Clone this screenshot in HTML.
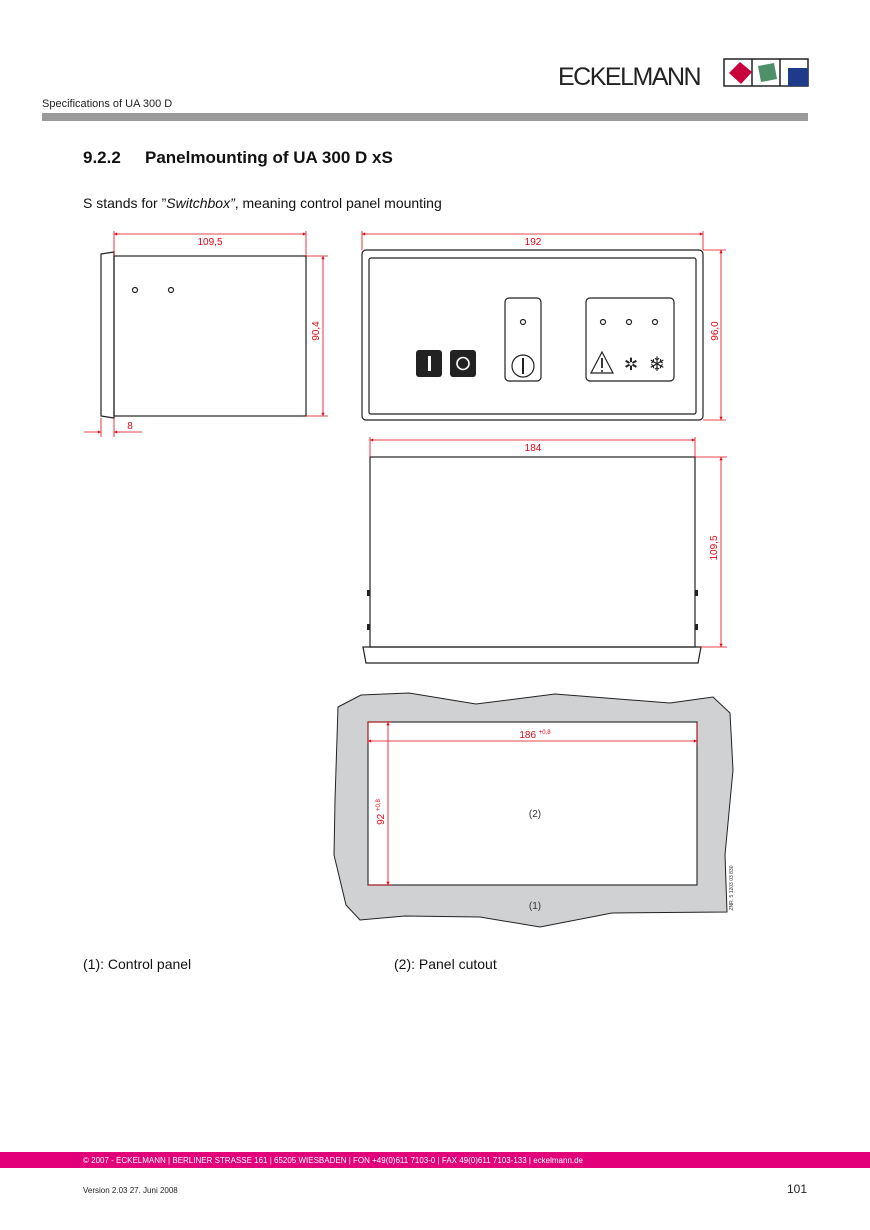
<!DOCTYPE html>
<html><head><meta charset="utf-8"><style>
html,body{margin:0;padding:0;background:#fff}
svg{display:block}
text{font-family:"Liberation Sans",Arial,sans-serif}
</style></head><body>
<svg width="870" height="1230" viewBox="0 0 870 1230" xmlns="http://www.w3.org/2000/svg">
<defs>
<marker id="a" viewBox="0 0 10 10" refX="10" refY="5" markerWidth="6" markerHeight="4" orient="auto-start-reverse"><path d="M0,0L10,5L0,10z" fill="#e30613"/></marker>
</defs>
<!-- header -->
<text x="558" y="85" font-size="25" fill="#222" letter-spacing="-1.5">ECKELMANN</text>
<rect x="724" y="59" width="84" height="27" fill="none" stroke="#222" stroke-width="1.5"/>
<line x1="752" y1="59" x2="752" y2="86" stroke="#222" stroke-width="1.5"/>
<line x1="780" y1="59" x2="780" y2="86" stroke="#222" stroke-width="1.5"/>
<polygon points="740,62 752,72 741,84 729,73" fill="#c8003c"/>
<polygon points="758,66 774,63 777,79 761,82" fill="#4f8f6a"/>
<rect x="788" y="68" width="20" height="18" fill="#1f3a8a"/>
<text x="42" y="107" font-size="11" fill="#222">Specifications of UA 300 D</text>
<rect x="42" y="113" width="766" height="8" fill="#9a9a9a"/>
<text x="83" y="163" font-size="17" font-weight="bold" fill="#111">9.2.2</text>
<text x="145" y="163" font-size="17" font-weight="bold" fill="#111">Panelmounting of UA 300 D xS</text>
<text x="83" y="208" font-size="14" fill="#111">S stands for ”<tspan font-style="italic">Switchbox”</tspan>, meaning control panel mounting</text>

<g stroke="#222" stroke-width="1.2" fill="none">
<!-- side view -->
<rect x="114" y="256" width="192" height="160"/>
<polygon points="101,254 114,252 114,418 101,416"/>
<circle cx="135" cy="290" r="2.5"/><circle cx="171" cy="290" r="2.5"/>
<!-- front -->
<rect x="362" y="250" width="341" height="170" rx="4"/>
<rect x="369" y="258" width="327" height="156" rx="2"/>
<rect x="505" y="298" width="36" height="83" rx="4"/>
<circle cx="523" cy="322" r="2.5"/>
<circle cx="523" cy="366" r="11"/>
<rect x="586" y="298" width="88" height="83" rx="4"/>
<circle cx="603" cy="322" r="2.5"/><circle cx="629" cy="322" r="2.5"/><circle cx="655" cy="322" r="2.5"/>
<polygon points="602,352 591,373 613,373"/>
<!-- top view -->
<rect x="370" y="457" width="325" height="190"/>
<polygon points="363,647 701,647 698,663 366,663"/>
</g>
<line x1="523" y1="358" x2="523" y2="374" stroke="#222" stroke-width="2"/>
<rect x="416" y="350" width="26" height="27" rx="3" fill="#222"/>
<rect x="428" y="356" width="3" height="15" fill="#fff"/>
<rect x="450" y="350" width="26" height="27" rx="3" fill="#222"/>
<circle cx="463" cy="363.5" r="6" fill="none" stroke="#fff" stroke-width="1.6"/>
<line x1="602" y1="358" x2="602" y2="368" stroke="#222" stroke-width="1.8"/>
<circle cx="602" cy="371" r="1" fill="#222"/>
<text x="631" y="370" font-size="17" text-anchor="middle" fill="#222">✲</text>
<text x="657" y="371" font-size="20" text-anchor="middle" fill="#222">❄</text>
<g fill="#222"><rect x="367" y="590" width="3" height="6"/><rect x="367" y="624" width="3" height="6"/><rect x="695" y="590" width="3" height="6"/><rect x="695" y="624" width="3" height="6"/></g>

<!-- dimensions -->
<g stroke="#e30613" stroke-width="0.8" fill="none">
<line x1="114" y1="231" x2="114" y2="256"/><line x1="306" y1="231" x2="306" y2="256"/>
<line x1="114" y1="234" x2="306" y2="234" marker-start="url(#a)" marker-end="url(#a)"/>
<line x1="306" y1="256" x2="328" y2="256"/><line x1="306" y1="416" x2="328" y2="416"/>
<line x1="323" y1="256" x2="323" y2="416" marker-start="url(#a)" marker-end="url(#a)"/>
<line x1="101" y1="418" x2="101" y2="437"/><line x1="114" y1="418" x2="114" y2="437"/>
<line x1="84" y1="432" x2="101" y2="432" marker-end="url(#a)"/>
<line x1="142" y1="432" x2="114" y2="432" marker-end="url(#a)"/>
<line x1="362" y1="231" x2="362" y2="250"/><line x1="703" y1="231" x2="703" y2="250"/>
<line x1="362" y1="234" x2="703" y2="234" marker-start="url(#a)" marker-end="url(#a)"/>
<line x1="703" y1="250" x2="726" y2="250"/><line x1="703" y1="420" x2="726" y2="420"/>
<line x1="721" y1="250" x2="721" y2="420" marker-start="url(#a)" marker-end="url(#a)"/>
<line x1="370" y1="437" x2="370" y2="457"/><line x1="695" y1="437" x2="695" y2="457"/>
<line x1="370" y1="440" x2="695" y2="440" marker-start="url(#a)" marker-end="url(#a)"/>
<line x1="695" y1="457" x2="727" y2="457"/><line x1="700" y1="647" x2="727" y2="647"/>
<line x1="721" y1="457" x2="721" y2="647" marker-start="url(#a)" marker-end="url(#a)"/>
</g>
<g fill="#e30613" font-size="10">
<text x="210" y="245" text-anchor="middle">109,5</text>
<text x="533" y="245" text-anchor="middle">192</text>
<text x="533" y="451" text-anchor="middle">184</text>
<text x="130" y="429" text-anchor="middle">8</text>
<text transform="translate(319,331) rotate(-90)" text-anchor="middle">90,4</text>
<text transform="translate(718,331) rotate(-90)" text-anchor="middle">96,0</text>
<text transform="translate(717,548) rotate(-90)" text-anchor="middle">109,5</text>
</g>

<!-- cutout -->
<polygon points="338,707 361,695 409,693 476,704 555,694 670,703 713,697 730,713 733,770 725,855 727,912 612,913 540,927 480,917 405,916 360,920 346,905 334,855 335,800" fill="#d0d1d3" stroke="#222" stroke-width="1"/>
<rect x="368" y="722" width="329" height="163" fill="#fff" stroke="#333" stroke-width="1.2"/>
<g stroke="#e30613" stroke-width="0.8" fill="none">
<line x1="368" y1="722" x2="368" y2="745"/><line x1="697" y1="722" x2="697" y2="745"/>
<line x1="368" y1="722" x2="392" y2="722"/><line x1="368" y1="885" x2="392" y2="885"/>
<line x1="368" y1="741" x2="697" y2="741" marker-start="url(#a)" marker-end="url(#a)"/>
<line x1="388" y1="722" x2="388" y2="885" marker-start="url(#a)" marker-end="url(#a)"/>
</g>
<text x="535" y="738" font-size="10" fill="#e30613" text-anchor="middle">186 <tspan font-size="6" dy="-4">+0,8</tspan></text>
<text transform="translate(384,812) rotate(-90)" font-size="10" fill="#e30613" text-anchor="middle">92 <tspan font-size="6" dy="-4">+0,8</tspan></text>
<text x="535" y="817" font-size="10" fill="#333" text-anchor="middle">(2)</text>
<text x="535" y="909" font-size="10" fill="#333" text-anchor="middle">(1)</text>
<text transform="translate(733,888) rotate(-90)" font-size="5" fill="#333" text-anchor="middle">ZNR. 5 1203 03 830</text>

<text x="83" y="969" font-size="14" fill="#111">(1): Control panel</text>
<text x="394" y="969" font-size="14" fill="#111">(2): Panel cutout</text>

<!-- footer -->
<rect x="0" y="1152" width="870" height="16" fill="#e2007a"/>
<text x="83" y="1163" font-size="8" fill="#fff">© 2007 - ECKELMANN | BERLINER STRASSE 161 | 65205 WIESBADEN | FON +49(0)611 7103-0 | FAX 49(0)611 7103-133 | eckelmann.de</text>
<text x="83" y="1193" font-size="8" fill="#222">Version 2.03   27. Juni 2008</text>
<text x="807" y="1193" font-size="12" fill="#222" text-anchor="end">101</text>
</svg>
</body></html>
